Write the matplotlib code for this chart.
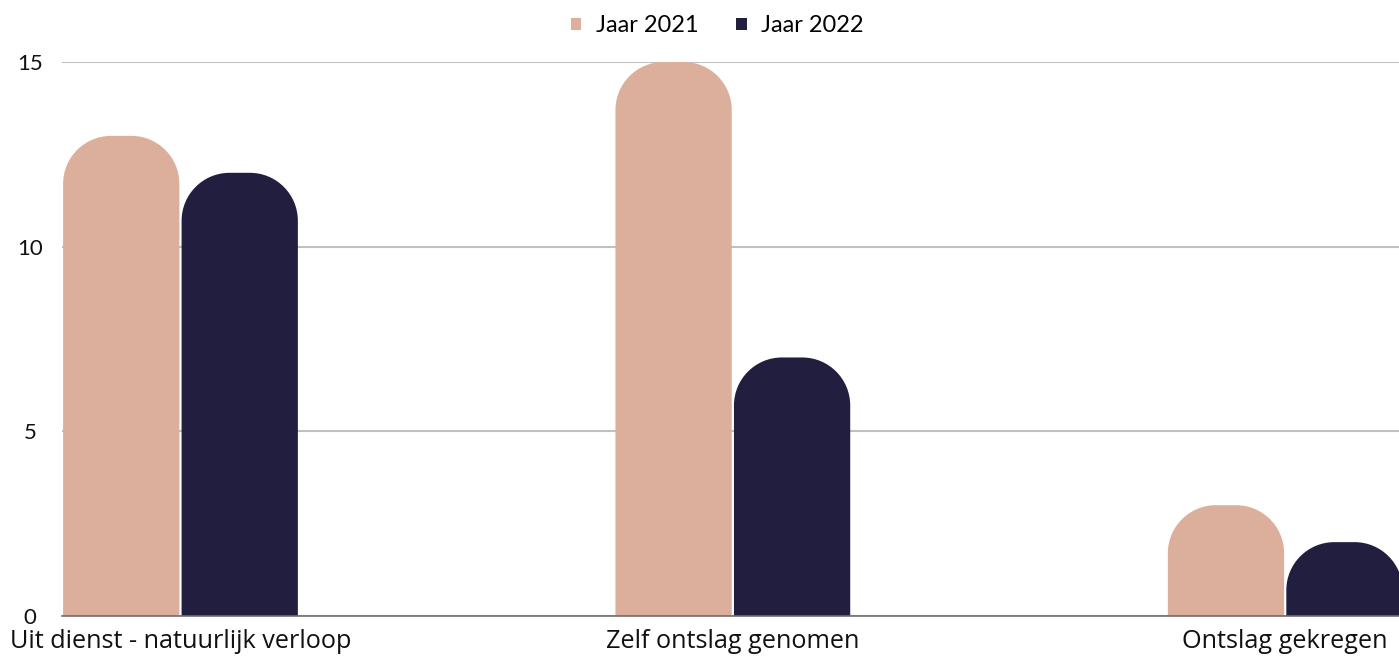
import matplotlib
matplotlib.use("Agg")
import matplotlib.pyplot as plt
from matplotlib.path import Path
from matplotlib.patches import PathPatch, Patch
import numpy as np

# Data
categories = ["Uit dienst - natuurlijk verloop", "Zelf ontslag genomen", "Ontslag gekregen"]
series_names = ["Jaar 2021", "Jaar 2022"]
jaar_2021 = [13, 15, 3]
jaar_2022 = [12, 7, 2]
colors = ["#DCAE9C", "#221E40"]

fig = plt.figure(figsize=(13.99, 6.6), dpi=100)
ax = fig.add_axes([62 / 1399, 1 - 616 / 660, 1 - 62 / 1399, (616 - 62) / 660])

x = np.arange(len(categories))
w = 0.2145
ax.set_xlim(-w, 2.206)
ax.set_ylim(0, 15)

# Plain bars first, then swap each one for a rounded-top version
bars = []
for i, (vals, col) in enumerate(zip([jaar_2021, jaar_2022], colors)):
    offset = -w / 2 if i == 0 else w / 2
    bc = ax.bar(x + offset, vals, width=w - 0.004, color=col, zorder=3)
    bars.append(bc)

fig.canvas.draw()
p0 = ax.transData.transform((0, 0))
p1 = ax.transData.transform((1, 1))
px_x = p1[0] - p0[0]
px_y = p1[1] - p0[1]
r_px = 48
k = 0.5523

for bc in bars:
    for rect in bc:
        x0 = rect.get_x()
        x1 = x0 + rect.get_width()
        h = rect.get_height()
        rx = r_px / px_x
        ry = min(r_px / px_y, h)
        verts = [
            (x0, 0), (x0, h - ry),
            (x0, h - ry + k * ry), (x0 + rx - k * rx, h), (x0 + rx, h),
            (x1 - rx, h),
            (x1 - rx + k * rx, h), (x1, h - ry + k * ry), (x1, h - ry),
            (x1, 0), (x0, 0),
        ]
        codes = [Path.MOVETO, Path.LINETO,
                 Path.CURVE4, Path.CURVE4, Path.CURVE4,
                 Path.LINETO,
                 Path.CURVE4, Path.CURVE4, Path.CURVE4,
                 Path.LINETO, Path.CLOSEPOLY]
        patch = PathPatch(Path(verts, codes), facecolor=rect.get_facecolor(),
                          edgecolor="none", zorder=3)
        ax.add_patch(patch)
        rect.set_visible(False)

# Grid and axes styling
ax.set_yticks([0, 5, 10, 15])
ax.yaxis.grid(True, color="#C0C0C0", linewidth=1.5, zorder=0)
ax.set_axisbelow(True)
for s in ["top", "right", "left"]:
    ax.spines[s].set_visible(False)
ax.spines["bottom"].set_color("#6E6E6E")
ax.spines["bottom"].set_linewidth(1.2)
ax.spines["bottom"].set_zorder(4)

ax.tick_params(axis="y", length=0, pad=23, labelsize=16)
for lbl in ax.get_yticklabels():
    lbl.set_fontfamily("Lato")
    lbl.set_horizontalalignment("center")
    lbl.set_color("#111111")

ax.set_xticks(x)
ax.set_xticklabels(categories, fontsize=18.2, fontfamily="Open Sans", color="#111111")
ax.tick_params(axis="x", length=0, pad=9)

handles = [Patch(facecolor=c, label=n) for c, n in zip(colors, series_names)]
fig.legend(handles=handles, loc="center", bbox_to_anchor=(717 / 1399, 1 - 26 / 660),
           ncol=2, frameon=False, prop={"family": "Lato", "size": 17},
           handlelength=0.45, handleheight=0.45, handletextpad=0.6, columnspacing=1.6)

fig.savefig("out.png", dpi=100)
